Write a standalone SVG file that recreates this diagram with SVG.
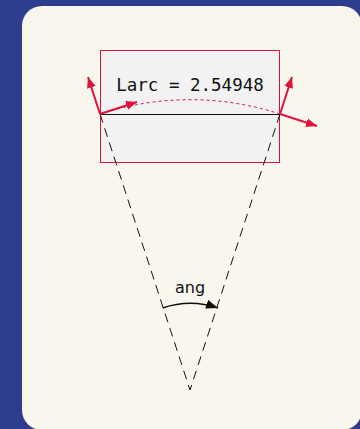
<svg xmlns="http://www.w3.org/2000/svg" width="360" height="429" viewBox="0 0 360 429">
<style>
.red{stroke:#dc143c;stroke-width:2;fill:none}
.dash{stroke:#111;stroke-width:1;stroke-dasharray:9,6;fill:none}
.mono{font-family:"DejaVu Sans Mono",monospace;font-size:17.5px;fill:#111}
.sans{font-family:"DejaVu Sans",sans-serif;font-size:16px;fill:#111}
</style>
<defs>
<marker id="ar" markerUnits="userSpaceOnUse" markerWidth="12" markerHeight="10" refX="11" refY="4.5" orient="auto"><path d="M0,0 L11,4.5 L0,9 z" fill="#dc143c"/></marker>
<marker id="ak" markerUnits="userSpaceOnUse" markerWidth="14" markerHeight="10" refX="12" refY="4.5" orient="auto"><path d="M0,0 L12,4.5 L0,9 z" fill="#111"/></marker>
</defs>
<rect x="0" y="0" width="360" height="429" fill="#2e3d8e"/>
<rect x="22" y="6" width="340" height="424" rx="20" fill="#f9f6ee"/>
<g id="box">
<rect x="100.5" y="50.5" width="179" height="112" fill="#f2f2f2" stroke="#dc143c" stroke-width="1"/>
<text class="mono" x="190" y="91" text-anchor="middle">Larc = 2.54948</text>
</g>
<g id="chord"><line x1="100" y1="114.5" x2="280" y2="114.5" stroke="#111" stroke-width="1"/></g>
<g id="arc"><path d="M100,114 A290.3,290.3 0 0 1 280,114" stroke="#dc143c" stroke-width="1" stroke-dasharray="3,3" fill="none"/></g>
<g id="connectors">
<line class="dash" x1="100" y1="114" x2="190" y2="390"/>
<line class="dash" x1="280" y1="114" x2="190" y2="390"/>
<line class="red" x1="100" y1="114" x2="88" y2="77" marker-end="url(#ar)"/>
<line class="red" x1="100" y1="114" x2="137" y2="102" marker-end="url(#ar)"/>
<line class="red" x1="280" y1="114" x2="292" y2="77" marker-end="url(#ar)"/>
<line class="red" x1="280" y1="114" x2="317" y2="126" marker-end="url(#ar)"/>
<path d="M162.7,308 A86,86 0 0 1 218,308" stroke="#111" stroke-width="1.5" fill="none" marker-end="url(#ak)"/>
</g>
<g id="angle"><text class="sans" x="190" y="293" text-anchor="middle">ang</text></g>
</svg>
